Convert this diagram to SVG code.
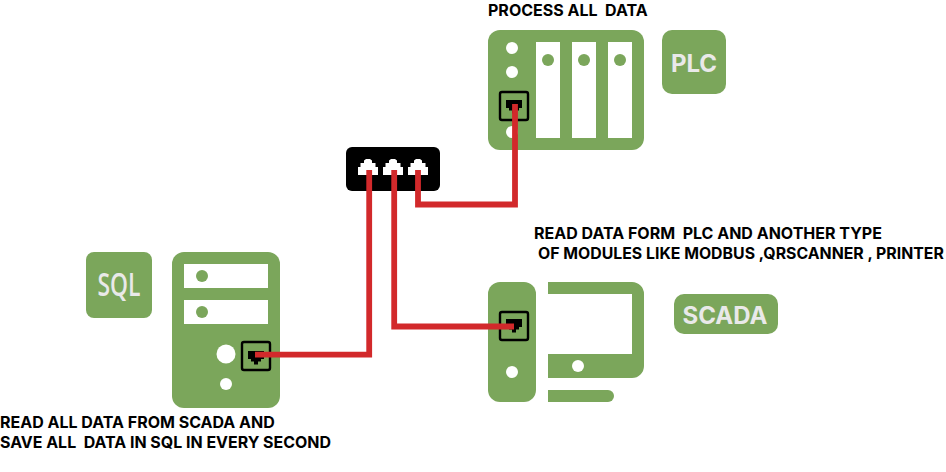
<svg xmlns="http://www.w3.org/2000/svg" width="946" height="472" viewBox="0 0 946 472">
<style>
.g{fill:#7ba65b}
.w{fill:#fff}
.box{fill:none;stroke:#000;stroke-width:2.400}
.lbl{font-family:Inter,"Liberation Sans",sans-serif;font-weight:700;fill:#e9e9e9}
.t{font-family:Inter,"Liberation Sans",sans-serif;font-weight:700;font-size:16px;fill:#000;white-space:pre}
.wire{fill:none;stroke:#d2292b;stroke-width:5.800;stroke-linejoin:miter}
</style>
<defs>
<path id="rj" d="M-8-7H8V1H5V3.500H2V6.500H-2V3.500H-5V1H-8Z"/>
<path id="sp" d="M-10 9V1H-7.500V-3H-4V-5.500L-2-7H2L4-5.500V-3H7.500V1H10V9Z"/>
</defs>
<g id="plc">
<rect class="g" x="488" y="30" width="156" height="120" rx="12"/>
<rect class="w" x="536" y="42" width="24" height="96"/>
<rect class="w" x="572" y="42" width="24" height="96"/>
<rect class="w" x="608" y="42" width="24" height="96"/>
<circle class="g" cx="548" cy="60" r="6"/>
<circle class="g" cx="584" cy="60" r="6"/>
<circle class="g" cx="620" cy="60" r="6"/>
<circle class="w" cx="512" cy="48" r="6"/>
<circle class="w" cx="512" cy="72" r="6"/>
<circle class="w" cx="512" cy="132" r="6"/>
<rect class="g" x="500" y="92" width="28" height="28" rx="2"/>
<rect class="box" x="500" y="92" width="28" height="28" rx="2"/>
<use href="#rj" x="514" y="107"/>
<text class="t" x="488" y="16">PROCESS ALL  DATA</text>
</g>
<g id="plc-label">
<rect class="g" x="662" y="30" width="64" height="64" rx="10"/>
<text class="lbl" x="694" y="72" font-size="24" text-anchor="middle">PLC</text>
</g>
<g id="switch">
<rect x="346" y="147" width="94" height="44" rx="6" fill="#000"/>
<use class="w" href="#sp" x="368" y="166"/>
<use class="w" href="#sp" x="393" y="166"/>
<use class="w" href="#sp" x="418" y="166"/>
</g>
<g id="sql-label">
<rect class="g" x="86" y="252" width="66" height="66" rx="8"/>
<text x="119" y="296" font-size="33" font-weight="600" text-anchor="middle" textLength="43" lengthAdjust="spacingAndGlyphs" style="font-family:'Open Sans','Noto Sans',sans-serif;fill:#e9e9e9">SQL</text>
</g>
<g id="sql">
<rect class="g" x="172" y="252" width="108" height="156" rx="12"/>
<rect class="w" x="184" y="264" width="84" height="24"/>
<rect class="w" x="184" y="300" width="84" height="24"/>
<circle class="g" cx="202" cy="276" r="6"/>
<circle class="g" cx="202" cy="312" r="6"/>
<circle class="w" cx="226" cy="354" r="9.500"/>
<circle class="w" cx="226" cy="384" r="6"/>
<rect class="g" x="242" y="342" width="28" height="28" rx="2"/>
<rect class="box" x="242" y="342" width="28" height="28" rx="2"/>
<use href="#rj" x="256" y="358"/>
<text class="t" x="0" y="428">READ ALL DATA FROM SCADA AND</text>
<text class="t" x="0" y="448" textLength="331" lengthAdjust="spacingAndGlyphs">SAVE ALL  DATA IN SQL IN EVERY SECOND</text>
</g>
<g id="scada">
<rect class="g" x="488" y="282" width="48" height="120" rx="12"/>
<path class="g" d="M548 282H632A12 12 0 0 1 644 294V366A12 12 0 0 1 632 378H548V354H632V294H548Z"/>
<path class="g" d="M548 390H608A6 6 0 0 1 608 402H548Z"/>
<circle class="w" cx="578" cy="366" r="6"/>
<circle class="w" cx="512" cy="372" r="6"/>
<rect class="g" x="500" y="312" width="28" height="28" rx="2"/>
<rect class="box" x="500" y="312" width="28" height="28" rx="2"/>
<use href="#rj" x="514" y="326"/>
<text class="t" x="534" y="239">READ DATA FORM  PLC AND ANOTHER TYPE</text>
<text class="t" x="538" y="259" style="font-size:15.850px">OF MODULES LIKE MODBUS ,QRSCANNER , PRINTER</text>
</g>
<g id="scada-label">
<rect class="g" x="674" y="294" width="104" height="40" rx="10"/>
<text class="lbl" x="725" y="324" font-size="24" text-anchor="middle">SCADA</text>
</g>
<g id="connectors">
<path class="wire" d="M369.200 170V354.700H255"/>
<path class="wire" d="M394.200 170V326.500H514"/>
<path class="wire" d="M418 170V204.500H515V104"/>
</g>
</svg>
